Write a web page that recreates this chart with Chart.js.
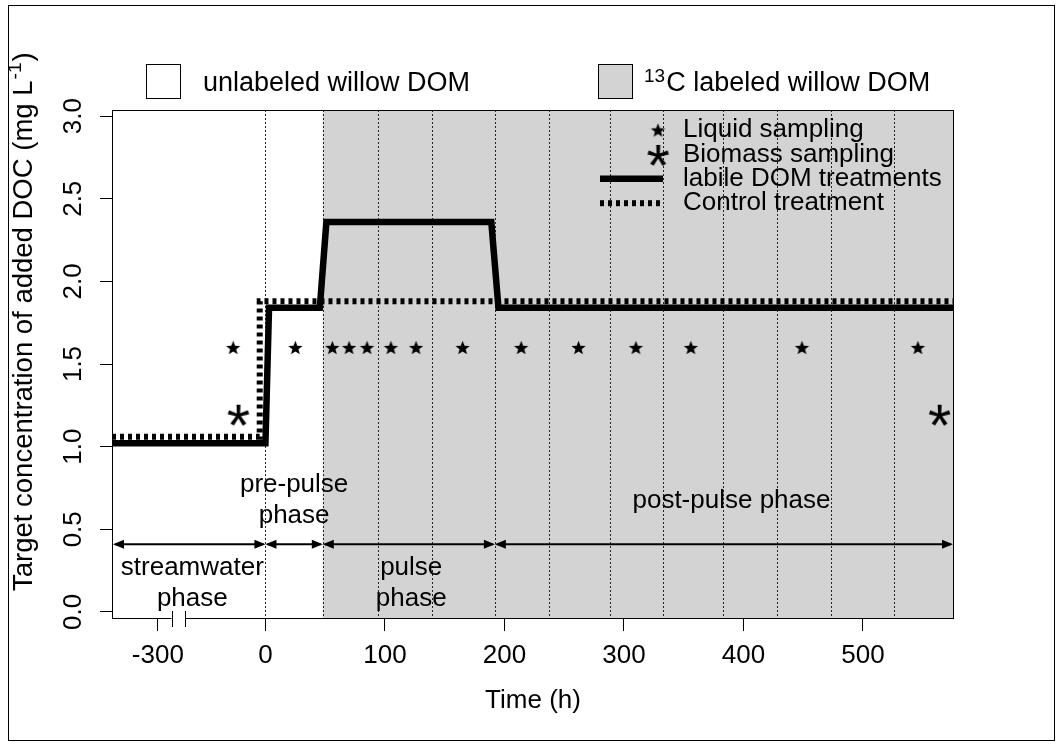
<!DOCTYPE html>
<html><head><meta charset="utf-8">
<script src="https://cdn.jsdelivr.net/npm/chart.js@4.4.1/dist/chart.umd.min.js"></script>
<style>html,body{margin:0;padding:0;background:#fff;}canvas{display:block;}</style>
</head><body>
<canvas id="c" width="1063" height="746"></canvas>
<script>
// ---------------- data (time in hours, concentration in mg L-1) ----------------
const labileHours   = [-428, 0, 3, 45.5, 51, 189, 195, 577];
const labileConc    = [1.02, 1.02, 1.84, 1.84, 2.36, 2.36, 1.84, 1.84];
const controlHours  = [-428, -16, -16, 577];
const controlConc   = [1.06, 1.06, 1.88, 1.88];
const liquidHours   = [-90, 25, 56, 70, 85, 105, 126, 165, 214, 262, 310, 356, 449, 546];
const liquidConc    = [1.6, 1.6, 1.6, 1.6, 1.6, 1.6, 1.6, 1.6, 1.6, 1.6, 1.6, 1.6, 1.6, 1.6];
const biomassHours  = [-76, 564];
const biomassConc   = [1.19, 1.19];
const exchangeHours = [0, 48, 94, 139, 192, 237, 288, 333, 383, 428, 473, 526];
const labeledStartHour = 48;
const phaseBounds   = [-428, 0, 48, 192, 576];
const phaseNames    = [['streamwater', 'phase'], ['pre-pulse', 'phase'], ['pulse', 'phase'], ['post-pulse phase']];
const phaseLabelHours = [-204, 24, 122, 390];
const phaseLabelConc = [0.222, 0.725, 0.222, 0.628];
const phaseArrowConc = 0.41;
const xTickHours    = [-300, 0, 100, 200, 300, 400, 500];
const yTickValues   = [0, 0.5, 1.0, 1.5, 2.0, 2.5, 3.0];
const axisBreakHours = [-262, -224];
const xRangeHours   = [-428, 576.2];
const yRange        = [-0.043, 3.037];
const legendLabels  = ['Liquid sampling', 'Biomass sampling', 'labile DOM treatments', 'Control treatment'];
const topLegendLabels = ['unlabeled willow DOM', 'C labeled willow DOM'];
const topLegendSup  = ['', '13'];
const yTitleMain = 'Target concentration of added DOC (mg L';
const yTitleSup = '-1';
const yTitleEnd = ')';

// negative (streamwater) part of the time axis is compressed
const negScale = 0.3;
const toAxis = h => h < 0 ? h * negScale : h;

const FAM = '"Liberation Sans", Arial, Helvetica, sans-serif';
const FS = 26;
const font = (s) => `${s}px ${FAM}`;

function makeStar(r) {
  const s = Math.ceil(r * 2 + 2);
  const c = document.createElement('canvas'); c.width = c.height = s;
  const g = c.getContext('2d');
  g.translate(s / 2, s / 2 + r * 0.1);
  g.beginPath();
  for (let i = 0; i < 10; i++) {
    const rr = i % 2 ? r * 0.43 : r;
    const a = -Math.PI / 2 + i * Math.PI / 5;
    g.lineTo(rr * Math.cos(a), rr * Math.sin(a));
  }
  g.closePath(); g.fillStyle = '#000'; g.fill();
  return c;
}
function makeAsterisk(px) {
  const s = Math.ceil(px * 0.45);
  const c = document.createElement('canvas'); c.width = c.height = s;
  const g = c.getContext('2d');
  g.font = font(px); g.fillStyle = '#000'; g.textBaseline = 'alphabetic'; g.textAlign = 'left';
  const m = g.measureText('*');
  const L = m.actualBoundingBoxLeft, R = m.actualBoundingBoxRight, A = m.actualBoundingBoxAscent, D = m.actualBoundingBoxDescent;
  g.fillText('*', s / 2 - (R - L) / 2, s / 2 + (A - D) / 2);
  return c;
}
const starImg = makeStar(7.5);
const astImg = makeAsterisk(60);

function drawArrow(ctx, x1, x2, y) {
  const hl = 11, hw = 4.5;
  ctx.beginPath(); ctx.moveTo(x1 + 2, y); ctx.lineTo(x2 - 2, y); ctx.stroke();
  ctx.beginPath(); ctx.moveTo(x1, y); ctx.lineTo(x1 + hl, y - hw); ctx.lineTo(x1 + hl, y + hw); ctx.closePath(); ctx.fill();
  ctx.beginPath(); ctx.moveTo(x2, y); ctx.lineTo(x2 - hl, y - hw); ctx.lineTo(x2 - hl, y + hw); ctx.closePath(); ctx.fill();
}

const decor = {
  id: 'decor',
  beforeDatasetsDraw(chart) {
    const { ctx, chartArea: a, scales: { x } } = chart;
    ctx.save();
    const xs = x.getPixelForValue(toAxis(labeledStartHour));
    ctx.fillStyle = '#d3d3d3';
    ctx.fillRect(xs, a.top, a.right - xs, a.bottom - a.top);
    ctx.strokeStyle = '#222'; ctx.lineWidth = 1; ctx.setLineDash([2, 2]);
    exchangeHours.forEach(h => {
      const px = Math.round(x.getPixelForValue(toAxis(h))) + 0.5;
      ctx.beginPath(); ctx.moveTo(px, a.top); ctx.lineTo(px, a.bottom); ctx.stroke();
    });
    ctx.restore();
  },
  afterDatasetsDraw(chart) {
    const { ctx, chartArea: a, scales: { x, y } } = chart;
    ctx.save();
    // phase arrows
    ctx.strokeStyle = '#000'; ctx.fillStyle = '#000'; ctx.lineWidth = 2;
    const ay = y.getPixelForValue(phaseArrowConc);
    for (let i = 0; i < phaseNames.length; i++) {
      const x1 = Math.max(a.left + 1, x.getPixelForValue(toAxis(phaseBounds[i])));
      const x2 = Math.min(a.right - 1, x.getPixelForValue(toAxis(phaseBounds[i + 1])));
      drawArrow(ctx, x1, x2, ay);
    }
    // phase labels
    ctx.font = font(FS); ctx.textAlign = 'center'; ctx.textBaseline = 'alphabetic';
    for (let i = 0; i < phaseNames.length; i++) {
      const cx = x.getPixelForValue(toAxis(phaseLabelHours[i]));
      const by = y.getPixelForValue(phaseLabelConc[i]);
      phaseNames[i].forEach((t, k) => ctx.fillText(t, cx, by + k * 31));
    }
    // inner legend
    const lx0 = 600, lx1 = 663, px = 658, tx = 683, ry0 = 130, rh = 24.4;
    ctx.textAlign = 'left'; ctx.textBaseline = 'middle';
    legendLabels.forEach((t, i) => {
      const ry = ry0 + i * rh;
      if (i === 0) ctx.drawImage(starImg, px - starImg.width / 2, ry - starImg.height / 2);
      if (i === 1) ctx.drawImage(astImg, px - astImg.width / 2, ry - astImg.height / 2 + 1);
      if (i === 2) { ctx.lineWidth = 6.5; ctx.setLineDash([]); ctx.beginPath(); ctx.moveTo(lx0, ry); ctx.lineTo(lx1, ry); ctx.stroke(); }
      if (i === 3) { ctx.lineWidth = 6; ctx.lineCap = 'butt'; ctx.setLineDash([4, 4]); ctx.beginPath(); ctx.moveTo(lx0, ry); ctx.lineTo(lx1, ry); ctx.stroke(); ctx.setLineDash([]); }
      ctx.fillText(t, tx, ry);
    });
    ctx.restore();
  },
  afterDraw(chart) {
    const { ctx, chartArea: a, scales: { x } } = chart;
    ctx.save();
    // plot box
    ctx.strokeStyle = '#000'; ctx.lineWidth = 1; ctx.setLineDash([]);
    ctx.strokeRect(Math.round(a.left) + 0.5, Math.round(a.top) + 0.5, Math.round(a.right - a.left) - 1, Math.round(a.bottom - a.top) - 1);
    // axis break
    const b1 = x.getPixelForValue(toAxis(axisBreakHours[0])), b2 = x.getPixelForValue(toAxis(axisBreakHours[1]));
    ctx.fillStyle = '#fff';
    ctx.fillRect(b1, a.bottom - 4, b2 - b1, 8);
    ctx.strokeStyle = '#000';
    [b1, b2].forEach(bx => { const p = Math.round(bx) + 0.5; ctx.beginPath(); ctx.moveTo(p, a.bottom - 8); ctx.lineTo(p, a.bottom + 8); ctx.stroke(); });
    // outer frame
    ctx.strokeRect(8.5, 5.5, 1046, 735);
    // top legend
    ctx.lineWidth = 1; ctx.strokeStyle = '#000';
    const boxes = [[146, '#ffffff', 203], [598, '#d3d3d3', 644]];
    boxes.forEach(([bx, col, tx], i) => {
      ctx.fillStyle = col; ctx.fillRect(bx + 0.5, 64.5, 34, 34); ctx.strokeRect(bx + 0.5, 64.5, 34, 34);
      ctx.fillStyle = '#000'; ctx.textAlign = 'left'; ctx.textBaseline = 'alphabetic';
      let cx = tx;
      if (topLegendSup[i]) { ctx.font = font(19); ctx.fillText(topLegendSup[i], cx, 82); cx += ctx.measureText(topLegendSup[i]).width + 1; }
      ctx.font = font(27); ctx.fillText(topLegendLabels[i], cx, 91);
    });
    // y-axis title (rotated, with superscript)
    ctx.translate(24, 591); ctx.rotate(-Math.PI / 2);
    ctx.textAlign = 'left'; ctx.textBaseline = 'middle'; ctx.fillStyle = '#000';
    ctx.font = font(27.5); ctx.fillText(yTitleMain, 0, 0);
    let w = ctx.measureText(yTitleMain).width;
    ctx.font = font(19); ctx.fillText(yTitleSup, w + 1, -8);
    w += ctx.measureText(yTitleSup).width + 2;
    ctx.font = font(27.5); ctx.fillText(yTitleEnd, w, 0);
    ctx.restore();
  }
};

new Chart(document.getElementById('c'), {
  type: 'scatter',
  data: {
    datasets: [
      { label: 'Liquid sampling', data: liquidHours.map((h, i) => ({ x: toAxis(h), y: liquidConc[i] })),
        pointStyle: starImg, pointRadius: 7, showLine: false, clip: false },
      { label: 'Biomass sampling', data: biomassHours.map((h, i) => ({ x: toAxis(h), y: biomassConc[i] })),
        pointStyle: astImg, pointRadius: 10, showLine: false, clip: false },
      { label: 'Control treatment', data: controlHours.map((h, i) => ({ x: toAxis(h), y: controlConc[i] })),
        showLine: true, borderColor: '#000', borderWidth: 6, borderDash: [4, 4], borderCapStyle: 'butt',
        borderJoinStyle: 'miter', pointRadius: 0, pointHitRadius: 0, tension: 0, clip: 0 },
      { label: 'labile DOM treatments', data: labileHours.map((h, i) => ({ x: toAxis(h), y: labileConc[i] })),
        showLine: true, borderColor: '#000', borderWidth: 6.5, borderCapStyle: 'butt',
        borderJoinStyle: 'miter', pointRadius: 0, pointHitRadius: 0, tension: 0, clip: 0 }
    ]
  },
  options: {
    responsive: false, animation: false, devicePixelRatio: 1,
    layout: { padding: { top: 110, right: 109, bottom: 0, left: 0 } },
    plugins: { legend: { display: false }, tooltip: { enabled: false } },
    scales: {
      x: {
        type: 'linear', min: toAxis(xRangeHours[0]), max: xRangeHours[1],
        afterBuildTicks: s => { s.ticks = xTickHours.map(h => ({ value: toAxis(h) })); },
        afterFit: s => { s.height = 127; },
        ticks: { font: { family: FAM, size: FS }, color: '#000', padding: 9, autoSkip: false, maxRotation: 0,
          callback: (v, i) => String(xTickHours[i]) },
        grid: { drawOnChartArea: false, drawTicks: true, tickLength: 12, color: '#000', lineWidth: 1 },
        border: { display: false },
        title: { display: true, text: 'Time (h)', color: '#000', font: { family: FAM, size: FS }, padding: { top: 0, bottom: 30 } }
      },
      y: {
        min: yRange[0], max: yRange[1],
        afterBuildTicks: s => { s.ticks = yTickValues.map(v => ({ value: v })); },
        afterFit: s => { s.width = 112; },
        ticks: { font: { family: FAM, size: FS }, color: '#000', minRotation: 90, maxRotation: 90, crossAlign: 'center', padding: 8,
          callback: v => v.toFixed(1) },
        grid: { drawOnChartArea: false, drawTicks: true, tickLength: 12, color: '#000', lineWidth: 1 },
        border: { display: false }
      }
    }
  },
  plugins: [decor]
});
</script>
</body></html>
